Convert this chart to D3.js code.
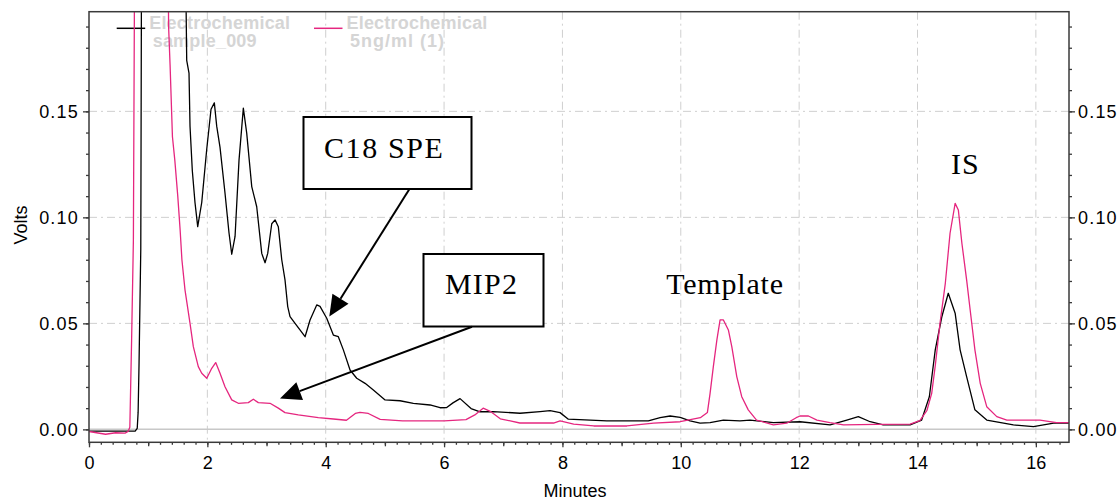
<!DOCTYPE html>
<html>
<head>
<meta charset="utf-8">
<script src="https://cdn.jsdelivr.net/npm/d3@7"></script>
<style>
  html, body { margin: 0; padding: 0; background: #fff; }
  svg { display: block; }
</style>
</head>
<body>
<svg id="chart" width="1119" height="500"></svg>
<script>
// ---- data (minutes, volts) ----
const sampleTimes = [0, 0.40, 0.78, 0.815, 0.83, 0.845, 0.875, 0.89, 1.2, 1.62, 1.651, 1.69, 1.707, 1.746, 1.791, 1.837, 1.905, 1.989, 2.062, 2.118, 2.158, 2.214, 2.298, 2.366, 2.412, 2.468, 2.535, 2.608, 2.665, 2.750, 2.834, 2.919, 2.975, 3.020, 3.088, 3.144, 3.199, 3.257, 3.312, 3.358, 3.397, 3.482, 3.651, 3.735, 3.848, 3.904, 4.017, 4.129, 4.213, 4.298, 4.411, 4.524, 4.665, 4.805, 5.003, 5.256, 5.481, 5.763, 5.932, 6.045, 6.15, 6.27, 6.456, 6.608, 6.828, 7.284, 7.622, 7.791, 7.96, 8.10, 8.75, 9.452, 9.65, 9.82, 9.99, 10.157, 10.326, 10.495, 10.72, 11.0, 11.17, 11.565, 12.016, 12.523, 12.805, 13.0, 13.2, 13.42, 13.875, 14.07, 14.20, 14.30, 14.41, 14.52, 14.636, 14.72, 14.83, 14.97, 15.17, 15.62, 15.96, 16.30, 16.56];
const sampleVolts = [-0.0008, -0.0008, -0.0008, 0.0005, 0.008, 0.030, 0.085, 0.25, 0.25, 0.25, 0.174, 0.168, 0.143, 0.122, 0.107, 0.0956, 0.107, 0.132, 0.151, 0.154, 0.143, 0.133, 0.1115, 0.0926, 0.0826, 0.091, 0.127, 0.1515, 0.1397, 0.1145, 0.105, 0.083, 0.0786, 0.083, 0.097, 0.0988, 0.0956, 0.080, 0.0705, 0.0579, 0.0532, 0.050, 0.0437, 0.0516, 0.0587, 0.058, 0.0524, 0.0445, 0.0437, 0.0375, 0.028, 0.0241, 0.0217, 0.0186, 0.0139, 0.0135, 0.0123, 0.0115, 0.0102, 0.0103, 0.0125, 0.0145, 0.0098, 0.0083, 0.0084, 0.0076, 0.0084, 0.0088, 0.0079, 0.0048, 0.0040, 0.0040, 0.0055, 0.0063, 0.0057, 0.0040, 0.0029, 0.0032, 0.0044, 0.0040, 0.0044, 0.0032, 0.0036, 0.0021, 0.0044, 0.0060, 0.0036, 0.0021, 0.0021, 0.0044, 0.0154, 0.0375, 0.053, 0.0642, 0.0548, 0.0375, 0.0249, 0.0092, 0.0044, 0.0021, 0.0013, 0.0029, 0.0029];

const standardTimes = [0, 0.28, 0.45, 0.61, 0.66, 0.69, 0.72, 0.75, 0.775, 1.0, 1.33, 1.345, 1.37, 1.41, 1.45, 1.50, 1.54, 1.57, 1.622, 1.707, 1.763, 1.847, 1.905, 1.99, 2.074, 2.141, 2.214, 2.298, 2.412, 2.523, 2.692, 2.777, 2.861, 3.059, 3.199, 3.312, 3.537, 3.875, 4.13, 4.35, 4.50, 4.58, 4.72, 4.92, 5.3, 6.0, 6.37, 6.52, 6.66, 6.78, 6.95, 7.28, 7.85, 7.96, 8.19, 8.53, 9.09, 9.54, 9.99, 10.33, 10.45, 10.495, 10.55, 10.61, 10.664, 10.72, 10.804, 10.862, 10.946, 11.03, 11.14, 11.28, 11.565, 11.79, 11.95, 12.016, 12.157, 12.30, 12.52, 12.75, 13.31, 13.875, 14.04, 14.16, 14.24, 14.30, 14.38, 14.47, 14.55, 14.636, 14.69, 14.75, 14.83, 14.89, 14.97, 15.06, 15.17, 15.34, 15.51, 16.07, 16.35, 16.56];
const standardVolts = [-0.0010, -0.0023, -0.0016, -0.0018, -0.0010, 0.0010, 0.042, 0.089, 0.25, 0.25, 0.25, 0.19, 0.172, 0.138, 0.127, 0.110, 0.094, 0.080, 0.0658, 0.050, 0.039, 0.0296, 0.0265, 0.0241, 0.0288, 0.0315, 0.0265, 0.0201, 0.0139, 0.0123, 0.0126, 0.0142, 0.0126, 0.0123, 0.010, 0.0079, 0.0068, 0.0055, 0.0049, 0.0043, 0.0075, 0.0080, 0.0075, 0.0047, 0.0040, 0.0040, 0.0046, 0.0068, 0.0100, 0.0085, 0.0050, 0.0030, 0.0030, 0.0040, 0.0025, 0.0016, 0.0016, 0.0029, 0.0036, 0.0055, 0.0080, 0.017, 0.0296, 0.0422, 0.0516, 0.0516, 0.0469, 0.039, 0.0249, 0.0154, 0.0092, 0.0044, 0.0021, 0.0029, 0.0055, 0.0063, 0.0063, 0.0044, 0.0032, 0.0021, 0.0024, 0.0025, 0.0041, 0.0090, 0.017, 0.0300, 0.050, 0.0689, 0.0925, 0.1066, 0.1035, 0.0878, 0.0705, 0.0563, 0.0375, 0.0217, 0.0107, 0.0060, 0.0044, 0.0044, 0.0032, 0.0032];

const seriesNames = ["Electrochemical\nsample_009", "Electrochemical\n5ng/ml (1)"];
const seriesColors = ["#000000", "#e5267f"];
const xTickLabels = [0, 2, 4, 6, 8, 10, 12, 14, 16];
const yTickLabels = [0.00, 0.05, 0.10, 0.15];
const xTitle = "Minutes";
const yTitle = "Volts";
const annotations = ["C18 SPE", "MIP2", "Template", "IS"];

// ---- layout ----
const svg = d3.select("#chart");
const L = 89, R = 1069, T = 11.7, B = 442.3;
const x = d3.scaleLinear().domain([0, 16.56]).range([L, R]);
const y = d3.scaleLinear().domain([-0.0061, 0.197]).range([B, T]);
const axisColor = "#3a3a3a";
const gridColor = "#cfcfcf";

// grid
const grid = svg.append("g");
grid.selectAll("line.vx").data(xTickLabels.filter(d => d > 0)).join("line")
  .attr("x1", d => x(d)).attr("x2", d => x(d)).attr("y1", T).attr("y2", B)
  .attr("stroke", gridColor).attr("stroke-width", 1).attr("stroke-dasharray", "8,4,2,4");
grid.selectAll("line.hy").data(yTickLabels.filter(d => d > 0)).join("line")
  .attr("x1", L).attr("x2", R).attr("y1", d => y(d)).attr("y2", d => y(d))
  .attr("stroke", gridColor).attr("stroke-width", 1).attr("stroke-dasharray", "8,4,2,4");
grid.append("line").attr("x1", L).attr("x2", R).attr("y1", y(0)).attr("y2", y(0))
  .attr("stroke", "#c8c8c8").attr("stroke-width", 1.5);

// legend (under traces)
const leg = svg.append("g").attr("font-family", "Liberation Sans, Arial, sans-serif")
  .attr("font-weight", "bold").attr("font-size", 18).attr("fill", "#d5d5d5");
const legX = [116.7, 314];
seriesNames.forEach((name, i) => {
  leg.append("line").attr("x1", legX[i]).attr("x2", legX[i] + 28.5).attr("y1", 28.3).attr("y2", 28.3)
    .attr("stroke", seriesColors[i]).attr("stroke-width", 1.5);
  const lines = name.split("\n");
  leg.append("text").attr("x", legX[i] + 32.5).attr("y", 28.5).attr("letter-spacing", 0.2).text(lines[0]);
  leg.append("text").attr("x", legX[i] + 36).attr("y", 46.5).attr("letter-spacing", i === 1 ? 1 : 0.2).text(lines[1]);
});

// clip
svg.append("clipPath").attr("id", "clip").append("rect")
  .attr("x", L).attr("y", T).attr("width", R - L).attr("height", B - T);

const line = d3.line().x(d => x(d[0])).y(d => y(d[1]));
const plot = svg.append("g").attr("clip-path", "url(#clip)");
const seriesData = [
  d3.zip(sampleTimes, sampleVolts),
  d3.zip(standardTimes, standardVolts)
];
seriesData.forEach((data, i) => {
  plot.append("path").datum(data).attr("d", line)
    .attr("fill", "none").attr("stroke", seriesColors[i]).attr("stroke-width", 1.3)
    .attr("stroke-linejoin", "round");
});

// axes
const fmt = d3.format(".2f");
const tickFont = "Liberation Sans, Arial, sans-serif";
function styleAxis(g) {
  g.select(".domain").remove();
  g.selectAll("line").attr("stroke", axisColor).attr("stroke-width", 1.3);
  g.selectAll("text").attr("font-family", tickFont).attr("font-size", 18).attr("fill", "#000");
}
const xMinor = d3.range(0, 16.5, 0.2).map(v => +v.toFixed(1));
const xMid = d3.range(1, 17, 2);
svg.append("g").attr("transform", `translate(0,${B})`)
  .call(d3.axisBottom(x).tickValues(xMinor).tickSize(2.5).tickFormat("")).call(styleAxis);
svg.append("g").attr("transform", `translate(0,${B})`)
  .call(d3.axisBottom(x).tickValues(xMid).tickSize(4).tickFormat("")).call(styleAxis);
svg.append("g").attr("transform", `translate(0,${B})`)
  .call(d3.axisBottom(x).tickValues(xTickLabels).tickSize(5).tickPadding(8.5).tickFormat(d3.format("d"))).call(styleAxis);

const yMinor = d3.range(0, 0.195, 0.01).map(v => +v.toFixed(2));
[["axisLeft", L], ["axisRight", R]].forEach(([fn, px]) => {
  svg.append("g").attr("transform", `translate(${px},0)`)
    .call(d3[fn](y).tickValues(yMinor).tickSize(3).tickFormat("")).call(styleAxis);
  svg.append("g").attr("transform", `translate(${px},0)`)
    .call(d3[fn](y).tickValues(yTickLabels).tickSize(6).tickPadding(fn === "axisLeft" ? 4 : 3).tickFormat(fmt))
    .call(styleAxis)
    .selectAll("text").attr("letter-spacing", 1.2);
});

// frame
svg.append("rect").attr("x", L).attr("y", T).attr("width", R - L).attr("height", B - T)
  .attr("fill", "none").attr("stroke", axisColor).attr("stroke-width", 1.5);

// titles
svg.append("text").attr("x", (L + R) / 2 - 4).attr("y", 497).attr("text-anchor", "middle")
  .attr("font-family", tickFont).attr("font-size", 18).text(xTitle);
svg.append("text").attr("transform", `translate(27,225) rotate(-90)`).attr("text-anchor", "middle")
  .attr("font-family", tickFont).attr("font-size", 18).text(yTitle);

// annotations
const ann = svg.append("g");
const serif = "Liberation Serif, 'Times New Roman', serif";
function box(x0, y0, w, h, label, tx, ty, ls) {
  ann.append("rect").attr("x", x0).attr("y", y0).attr("width", w).attr("height", h)
    .attr("fill", "#fff").attr("stroke", "#000").attr("stroke-width", 2);
  ann.append("text").attr("x", tx).attr("y", ty).attr("font-family", serif).attr("font-size", 30)
    .attr("letter-spacing", ls).text(label);
}
function arrow(x1, y1, x2, y2) {
  const dx = x2 - x1, dy = y2 - y1, len = Math.hypot(dx, dy);
  const ux = dx / len, uy = dy / len, hl = 21, hw = 9.5;
  const bx = x2 - ux * hl, by = y2 - uy * hl;
  ann.append("line").attr("x1", x1).attr("y1", y1).attr("x2", bx).attr("y2", by)
    .attr("stroke", "#000").attr("stroke-width", 2);
  ann.append("polygon").attr("points",
    [[x2, y2], [bx - uy * hw, by + ux * hw], [bx + uy * hw, by - ux * hw]].map(p => p.join(",")).join(" "))
    .attr("fill", "#000");
}
box(303.5, 117, 168, 72, annotations[0], 324, 157.5, 1.6);
arrow(409.3, 189.3, 329.3, 316.5);
box(423.5, 254, 120, 72.5, annotations[1], 445, 294, 1.2);
arrow(472, 326.7, 280, 398.5);
ann.append("text").attr("x", 725).attr("y", 294).attr("text-anchor", "middle")
  .attr("font-family", serif).attr("font-size", 30).attr("letter-spacing", 0.8).text(annotations[2]);
ann.append("text").attr("x", 951).attr("y", 173.5)
  .attr("font-family", serif).attr("font-size", 30).attr("letter-spacing", 1).text(annotations[3]);
</script>
</body>
</html>
